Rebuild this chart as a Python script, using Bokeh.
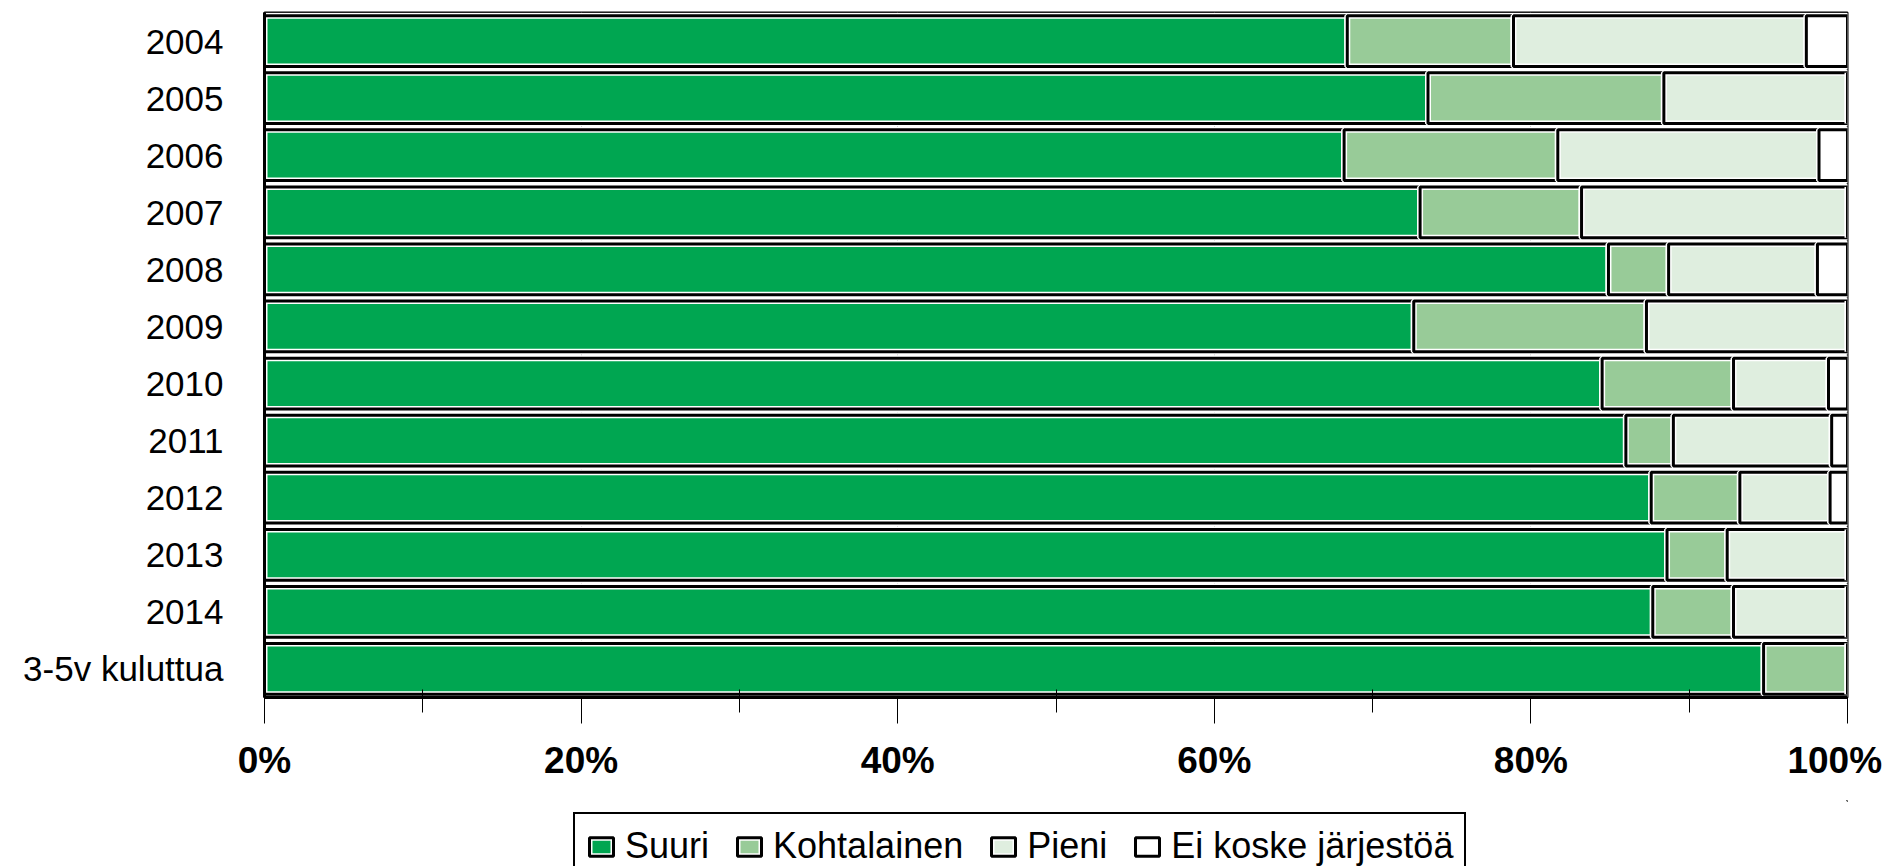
import numpy as np
from bokeh.plotting import figure
from bokeh.layouts import column
from bokeh.models import FactorRange, FixedTicker, Legend, LegendItem, Range1d, ColumnDataSource
from bokeh.embed import file_html
from bokeh.resources import INLINE

categories = ["2004", "2005", "2006", "2007", "2008", "2009", "2010", "2011",
              "2012", "2013", "2014", "3-5v kuluttua"]
suuri = [68.4, 73.5, 68.2, 73.0, 84.9, 72.6, 84.5, 86.0, 87.6, 88.6, 87.7, 94.7]
kohtalainen = [10.5, 14.9, 13.5, 10.2, 3.8, 14.7, 8.3, 3.0, 5.6, 3.8, 5.1, 5.3]
pieni = [18.5, 11.6, 16.5, 16.8, 9.4, 12.7, 6.0, 10.0, 5.7, 7.6, 7.2, 0.0]
ei_koske = [2.6, 0.0, 1.8, 0.0, 1.9, 0.0, 1.2, 1.0, 1.1, 0.0, 0.0, 0.0]

series_names = ["Suuri", "Kohtalainen", "Pieni", "Ei koske järjestöä"]
series_colors = ["#00A651", "#98CB98", "#DFEEDF", "#FFFFFF"]
x_ticks = [0, 20, 40, 60, 80, 100]
x_tick_labels = ["0%", "20%", "40%", "60%", "80%", "100%\u2009"]
x_minor_ticks = [10, 30, 50, 70, 90]

FONT = "Liberation Sans"
W = 1889
LEFT = 264
FW = 1583

p = figure(
    y_range=FactorRange(*reversed(categories)),
    x_range=Range1d(0, 100),
    frame_width=FW, frame_height=685,
    min_border_left=LEFT, min_border_right=W - LEFT - FW, min_border_top=12,
    min_border_bottom=103,
    output_backend="svg", toolbar_location=None,
)
p.y_range.range_padding = 0
p.background_fill_color = "white"
p.border_fill_color = "white"
p.outline_line_color = "black"
p.outline_line_width = 2

p.ygrid.grid_line_color = None
p.xgrid.ticker = FixedTicker(ticks=[20, 40, 60, 80])
p.xgrid.grid_line_color = "#808080"
p.xgrid.grid_line_dash = "3 3"
p.xgrid.grid_line_width = 1

series = [suuri, kohtalainen, pieni, ei_koske]
left = np.zeros(len(categories))
for vals, col in zip(series, series_colors):
    vals = np.array(vals, dtype=float)
    src = ColumnDataSource(dict(y=categories, left=left.copy(), right=left + vals))
    p.hbar(y="y", left="left", right="right", height=0.89, source=src,
           fill_color=col, line_color="white", line_width=6)
    p.hbar(y="y", left="left", right="right", height=0.89, source=src,
           fill_color=None, line_color="black", line_width=3)
    left = left + vals

xa = p.xaxis[0]
xa.ticker = FixedTicker(ticks=x_ticks, minor_ticks=x_minor_ticks)
xa.major_label_overrides = {t: l for t, l in zip(x_ticks, x_tick_labels)}
xa.major_label_text_font = FONT
xa.major_label_text_font_style = "bold"
xa.major_label_text_font_size = "37px"
xa.major_label_text_color = "black"
xa.major_label_standoff = 16
xa.axis_line_color = "black"
xa.axis_line_width = 3
xa.major_tick_in = 0
xa.major_tick_out = 26
xa.major_tick_line_color = "black"
xa.major_tick_line_width = 1
xa.minor_tick_in = 8
xa.minor_tick_out = 15
xa.minor_tick_line_color = "black"
xa.minor_tick_line_width = 1

ya = p.yaxis[0]
ya.major_label_text_font = FONT
ya.major_label_text_font_size = "35px"
ya.major_label_text_color = "black"
ya.major_label_standoff = 41
ya.axis_line_color = "black"
ya.axis_line_width = 3
ya.major_tick_in = 0
ya.major_tick_out = 0
ya.minor_tick_line_color = None

# legend strip below the chart (same frame geometry so the column aligns)
p2 = figure(
    frame_width=FW, frame_height=66, x_range=Range1d(0, 1), y_range=Range1d(0, 1),
    min_border_left=LEFT, min_border_right=W - LEFT - FW, min_border_top=0,
    min_border_bottom=0,
    output_backend="svg", toolbar_location=None,
)
p2.axis.visible = False
p2.xgrid.grid_line_color = None
p2.ygrid.grid_line_color = None
p2.outline_line_color = None
p2.background_fill_color = "white"
p2.border_fill_color = "white"

items = []
for name, col in zip(series_names, series_colors):
    # swatch renderers for the legend, placed entirely outside this strip's ranges
    ksrc = ColumnDataSource(dict(y=[50], left=[50], right=[51]))
    r1 = p2.hbar(y="y", left="left", right="right", height=0.5, source=ksrc,
                 fill_color=col, line_color="white", line_width=6)
    r2 = p2.hbar(y="y", left="left", right="right", height=0.5, source=ksrc,
                 fill_color=None, line_color="black", line_width=3)
    items.append(LegendItem(label=name, renderers=[r1, r2]))

legend = Legend(
    items=items, orientation="horizontal", location=(309, -14),
    border_line_color="black", border_line_width=2, border_line_alpha=1,
    background_fill_color="white", background_fill_alpha=1,
    label_text_font=FONT, label_text_font_size="36px", label_text_color="black",
    glyph_width=30, glyph_height=23, spacing=25, padding=11, margin=0,
    label_standoff=9,
)
p2.add_layout(legend, "center")

layout = column(p, p2, spacing=0)
open("out.html", "w").write(file_html(layout, INLINE))
